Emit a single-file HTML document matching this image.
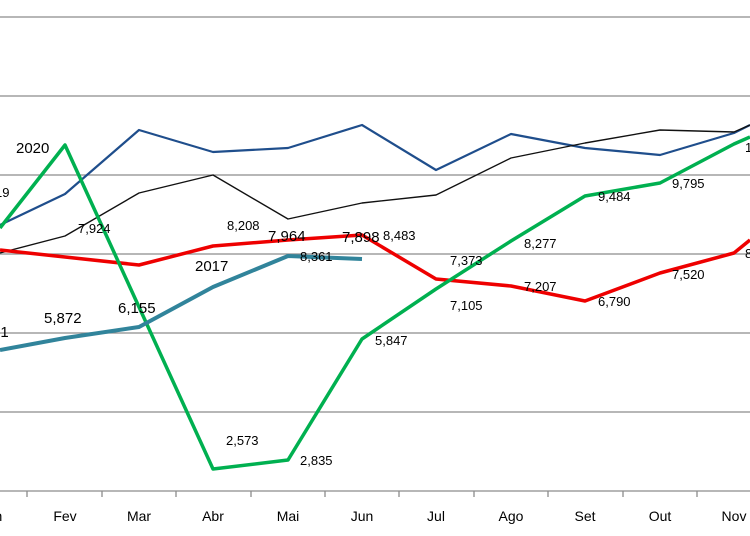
<!DOCTYPE html>
<html><head><meta charset="utf-8"><style>body{margin:0;background:#fff}svg{display:block}text{font-family:"Liberation Sans",sans-serif}</style></head><body>
<svg width="750" height="536" viewBox="0 0 750 536">
<g stroke="#8c8c8c" stroke-width="1.3">
<line x1="0" y1="17" x2="750" y2="17"/><line x1="0" y1="96" x2="750" y2="96"/><line x1="0" y1="175" x2="750" y2="175"/><line x1="0" y1="254" x2="750" y2="254"/><line x1="0" y1="333" x2="750" y2="333"/><line x1="0" y1="412" x2="750" y2="412"/><line x1="0" y1="491" x2="750" y2="491"/>
<line x1="27" y1="491" x2="27" y2="497"/><line x1="102" y1="491" x2="102" y2="497"/><line x1="176" y1="491" x2="176" y2="497"/><line x1="251" y1="491" x2="251" y2="497"/><line x1="325" y1="491" x2="325" y2="497"/><line x1="399" y1="491" x2="399" y2="497"/><line x1="474" y1="491" x2="474" y2="497"/><line x1="548" y1="491" x2="548" y2="497"/><line x1="623" y1="491" x2="623" y2="497"/><line x1="697" y1="491" x2="697" y2="497"/>
</g>
<g fill="none" stroke-linejoin="round">
<polyline stroke="#1f4e8c" stroke-width="2.2" points="0,225 65,194 139,130 213,152 288,148 362,125 436,170 511,134 585,148 660,155 734,133 750,125"/>
<polyline stroke="#111" stroke-width="1.4" points="0,253 65,236 139,193 213,175 288,219 362,203 436,195 511,158 585,143 660,130 734,132 750,125"/>
<polyline stroke="#e00" stroke-width="3.5" points="0,250 65,257 139,265 213,246 288,240 362,235 436,279 511,286 585,301 660,273 734,253 750,240"/>
<polyline stroke="#00b050" stroke-width="3.5" points="0,228 65,145 139,307 213,469 288,460 362,339 436,289 511,241 585,196 660,183 734,144 750,137"/>
<polyline stroke="#31849b" stroke-width="4" points="0,350 65,338 139,327 213,287 288,256 362,259"/>
</g>
<g font-size="13" fill="#000">
<text x="-5" y="197">19</text>
<text x="78" y="233">7,924</text>
<text x="227" y="230">8,208</text>
<text x="383" y="240">8,483</text>
<text x="226" y="445">2,573</text>
<text x="300" y="465">2,835</text>
<text x="375" y="345">5,847</text>
<text x="450" y="265">7,373</text>
<text x="450" y="310">7,105</text>
<text x="524" y="248">8,277</text>
<text x="524" y="291">7,207</text>
<text x="598" y="201">9,484</text>
<text x="598" y="306">6,790</text>
<text x="672" y="188">9,795</text>
<text x="672" y="279">7,520</text>
<text x="300" y="261">8,361</text>
<text x="745" y="258">8</text>
<text x="745" y="152">1</text>
</g>
<g font-size="15" fill="#000">
<text x="16" y="153">2020</text>
<text x="195" y="271">2017</text>
<text x="44" y="323">5,872</text>
<text x="118" y="313">6,155</text>
<text x="268" y="241">7,964</text>
<text x="342" y="242">7,898</text>
<text x="-8" y="337">61</text>
</g>
<g font-size="14" fill="#000" text-anchor="middle">
<text x="-9" y="521">Jan</text><text x="65" y="521">Fev</text><text x="139" y="521">Mar</text><text x="213" y="521">Abr</text><text x="288" y="521">Mai</text><text x="362" y="521">Jun</text><text x="436" y="521">Jul</text><text x="511" y="521">Ago</text><text x="585" y="521">Set</text><text x="660" y="521">Out</text><text x="734" y="521">Nov</text>
</g>
</svg>
</body></html>
